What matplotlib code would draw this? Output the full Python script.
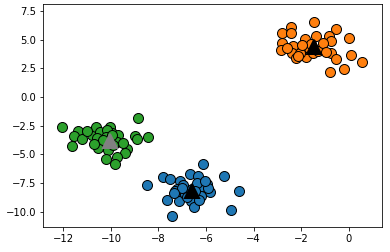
import numpy as np
import matplotlib
matplotlib.use('Agg')
import matplotlib.pyplot as plt

# cluster 0 (blue)
x_blue = [-6.12, -8.47, -7.80, -7.52, -7.10, -6.68, -6.33, -5.24, -5.98, -5.84,
          -7.24, -7.13, -6.96, -6.26, -4.61, -7.66, -7.13, -6.64, -6.50, -7.45,
          -4.96, -7.31, -6.60, -6.40, -6.90, -6.20, -7.00, -6.30, -6.80, -5.90,
          -6.45, -7.35, -6.05]
y_blue = [-5.88, -7.69, -7.01, -7.19, -7.34, -6.72, -6.90, -6.90, -7.60, -8.32,
          -8.06, -8.27, -7.69, -7.83, -8.21, -9.00, -9.08, -9.08, -9.63, -10.37,
          -9.87, -8.18, -8.00, -7.50, -8.50, -8.60, -7.90, -9.00, -8.75, -7.95,
          -8.20, -8.40, -7.30]

# cluster 1 (orange)
x_orange = [-1.46, -2.41, -2.82, -2.42, -0.55, -0.85, -1.36, -1.86, 0.00, -0.74,
            -2.82, -2.34, -2.84, -1.93, -1.67, -1.15, -2.39, -2.21, -1.81, -0.76,
            0.08, -0.55, 0.56, -0.21, -0.80, -1.51, -2.06, -1.60, -1.30, -2.60,
            -1.95, -1.10, -2.15, -0.95]
y_orange = [6.52, 6.14, 5.62, 5.62, 5.94, 5.33, 5.33, 5.04, 5.15, 4.89,
            4.74, 4.45, 4.10, 4.10, 4.25, 4.25, 3.87, 3.38, 3.52, 3.82,
            3.67, 3.29, 3.06, 2.42, 2.21, 3.84, 3.84, 4.60, 4.00, 4.30,
            4.55, 4.70, 3.60, 3.95]

# cluster 2 (green)
x_green = [-12.05, -8.85, -11.37, -11.54, -11.23, -11.63, -10.81, -10.64, -10.46, -10.04,
           -9.97, -9.69, -10.46, -9.76, -10.53, -10.14, -9.00, -8.92, -8.46, -9.34,
           -9.41, -9.76, -10.20, -9.82, -10.18, -10.20, -9.90, -10.60, -11.00, -9.50,
           -10.35, -9.95, -10.70]
y_green = [-2.59, -1.86, -2.95, -3.41, -3.69, -4.28, -3.32, -2.59, -3.03, -2.65,
           -3.12, -3.32, -3.90, -3.90, -4.48, -4.63, -3.41, -3.69, -3.52, -4.57,
           -4.86, -5.21, -5.44, -5.85, -2.88, -3.50, -4.20, -3.60, -3.00, -4.00,
           -3.75, -3.30, -4.10]

# cluster centers
center_x = [-6.58, -1.47, -10.05]
center_y = [-8.17, 4.33, -3.86]
center_colors = ['black', 'black', 'grey']

colors = ['#1f77b4', '#ff7f0e', '#2ca02c']

fig = plt.figure(figsize=(390 / 72, 252 / 72), dpi=72)
ax = fig.add_axes([0.110, 0.099, 0.869, 0.885])

for xs, ys, c in [(x_blue, y_blue, colors[0]),
                  (x_orange, y_orange, colors[1]),
                  (x_green, y_green, colors[2])]:
    ax.plot(xs, ys, 'o', color=c, markersize=10, markeredgecolor='k',
            markeredgewidth=1, linestyle='none')

for cx, cy, cc in zip(center_x, center_y, center_colors):
    ax.plot(cx, cy, '^', color=cc, markersize=14, markeredgecolor=cc,
            markeredgewidth=2, linestyle='none')

ax.set_xlim(-12.86, 1.39)
ax.set_ylim(-11.35, 8.12)
ax.set_xticks(np.arange(-12, 1, 2))
ax.set_yticks([-10.0, -7.5, -5.0, -2.5, 0.0, 2.5, 5.0, 7.5])
ax.tick_params(labelsize=10)

plt.savefig('out.png', dpi=72)
